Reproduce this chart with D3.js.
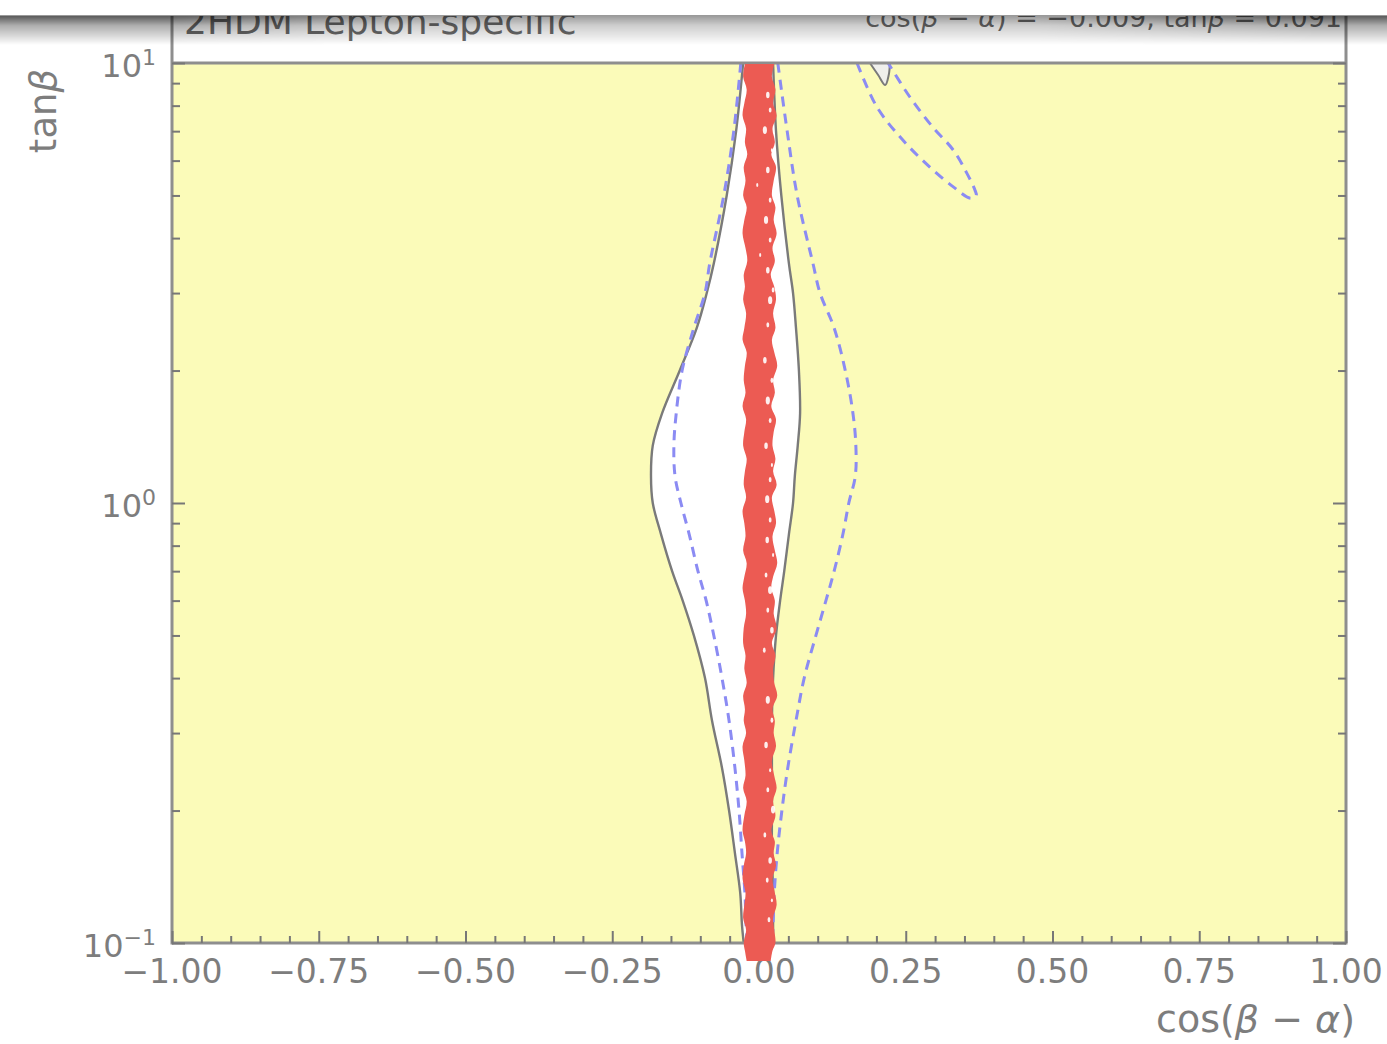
<!DOCTYPE html>
<html><head><meta charset="utf-8">
<script src="https://cdn.jsdelivr.net/npm/d3@7"></script>
<style>
body{margin:0;background:#fff;}
svg{display:block;}
text{font-family:"DejaVu Sans",sans-serif;}
</style>
</head><body>
<svg id="c" width="1387" height="1044"></svg>
<script>
// ---------- data ----------
const xTicks = [-1.00,-0.75,-0.50,-0.25,0.00,0.25,0.50,0.75,1.00];
const xTickLabels = ["\u22121.00","\u22120.75","\u22120.50","\u22120.25","0.00","0.25","0.50","0.75","1.00"];
const xMinorTicks = [-0.95,-0.90,-0.85,-0.80,-0.70,-0.65,-0.60,-0.55,-0.45,-0.40,-0.35,-0.30,-0.20,-0.15,-0.10,-0.05,
                     0.05,0.10,0.15,0.20,0.30,0.35,0.40,0.45,0.55,0.60,0.65,0.70,0.80,0.85,0.90,0.95];
const yTicks = [0.1, 1, 10];
const yTickExp = ["\u22121","0","1"];
const yMinorTicks = [0.2,0.3,0.4,0.5,0.6,0.7,0.8,0.9,2,3,4,5,6,7,8,9];

const titleLeft = "2HDM Lepton-specific";
const bestFit = {cba:"\u22120.009", tb:"0.091"};

// tanβ grid for the main contours
const tanGrid  = [10,7,5,3.5,3,2.5,2,1.6,1.35,1.15,1.0,0.85,0.7,0.6,0.5,0.4,0.32,0.25,0.2,0.16,0.13,0.11,0.1];
// solid grey contour (allowed region boundary), cos(β−α)
const grayLeft  = [-0.027,-0.039,-0.055,-0.077,-0.089,-0.106,-0.135,-0.165,-0.181,-0.184,-0.181,-0.167,-0.148,-0.130,-0.111,-0.092,-0.080,-0.063,-0.051,-0.041,-0.032,-0.029,-0.026];
const grayRight = [0.024,0.029,0.038,0.051,0.058,0.063,0.068,0.070,0.066,0.061,0.058,0.051,0.043,0.036,0.029,0.024,0.022,0.022,0.022,0.022,0.024,0.024,0.024];
// blue dashed contour
const blueLeft  = [-0.031,-0.043,-0.060,-0.084,-0.092,-0.111,-0.131,-0.141,-0.145,-0.143,-0.133,-0.119,-0.104,-0.090,-0.077,-0.063,-0.051,-0.041,-0.034,-0.029,-0.024,-0.022,-0.020];
const blueRight = [0.032,0.048,0.065,0.092,0.104,0.128,0.147,0.160,0.165,0.164,0.153,0.143,0.128,0.114,0.097,0.077,0.063,0.049,0.039,0.031,0.026,0.024,0.022];
// upper-right islands
const islandBlueC = [0.167,0.201,0.245,0.291,0.331,0.360,0.370,0.368,0.354,0.331,0.296,0.257,0.220];
const islandBlueT = [10.0,7.94,6.68,5.80,5.23,4.93,4.99,5.14,5.62,6.34,7.15,8.37,10.0];
const islandGrayC = [0.189,0.203,0.215,0.221,0.223];
const islandGrayT = [10.0,9.39,8.91,9.39,10.0];
// red best-fit scatter band (edges)
const redT = [9.95,9.3,8.7,8.1,7.6,7.1,6.6,6.2,5.8,5.4,5.0,4.7,4.4,4.1,3.8,3.55,3.3,3.1,2.9,2.7,2.5,2.35,2.2,2.05,1.9,1.78,1.66,1.55,1.45,1.35,
              1.26,1.18,1.1,1.03,0.96,0.9,0.84,0.78,0.73,0.68,0.64,0.6,0.56,0.52,0.48,0.45,0.42,0.39,0.365,0.34,0.32,0.3,0.28,0.26,0.24,0.225,0.21,0.195,0.18,0.17,
              0.16,0.15,0.14,0.13,0.122,0.114,0.107,0.1,0.096,0.091];
const redLeft = [-0.024,-0.027,-0.021,-0.025,-0.028,-0.022,-0.024,-0.020,-0.026,-0.023,
                 -0.027,-0.021,-0.025,-0.028,-0.023,-0.020,-0.026,-0.024,-0.027,-0.022,
                 -0.025,-0.028,-0.021,-0.024,-0.026,-0.023,-0.028,-0.022,-0.025,-0.027,
                 -0.021,-0.024,-0.026,-0.022,-0.028,-0.025,-0.023,-0.027,-0.021,-0.025,
                 -0.028,-0.024,-0.022,-0.026,-0.027,-0.023,-0.025,-0.021,-0.027,-0.024,
                 -0.026,-0.022,-0.028,-0.025,-0.023,-0.027,-0.021,-0.025,-0.028,-0.024,
                 -0.022,-0.026,-0.028,-0.023,-0.025,-0.027,-0.022,-0.026,-0.024,-0.021];
const redRight = [0.026,0.022,0.028,0.024,0.030,0.023,0.027,0.021,0.029,0.025,
                  0.022,0.028,0.025,0.030,0.023,0.027,0.020,0.026,0.029,0.024,
                  0.028,0.022,0.026,0.031,0.024,0.027,0.021,0.029,0.025,0.023,
                  0.028,0.024,0.030,0.022,0.026,0.029,0.023,0.027,0.031,0.024,
                  0.021,0.027,0.025,0.030,0.022,0.028,0.024,0.026,0.031,0.023,
                  0.027,0.025,0.029,0.022,0.026,0.030,0.024,0.028,0.021,0.027,
                  0.025,0.029,0.023,0.027,0.030,0.024,0.026,0.028,0.023,0.020];
// small gaps inside the red scatter band
const speckT = [8.46,7.82,7.04,6.34,5.71,5.28,4.88,4.40,3.96,3.66,3.38,3.05,2.89,2.54,2.29,2.11,1.90,1.71,1.54,1.35,1.22,1.13,1.02,0.915,0.824,0.762,0.686,0.634,0.571,0.514,0.463,0.357,0.321,0.282,0.247,0.223,0.201,0.176,0.154,0.139,0.125,0.113];
const speckC = [0.015,0.019,0.010,0.022,0.015,-0.003,0.019,0.012,0.019,0.002,0.015,0.024,0.019,0.015,0.027,0.010,0.022,0.015,0.019,0.012,0.022,0.019,0.014,0.019,0.014,0.024,0.012,0.019,0.015,0.022,0.009,0.015,0.022,0.012,0.019,0.015,0.024,0.010,0.019,0.014,0.022,0.017];
const speckR = [2.5,2,3,1.5,2.5,1.5,2,3,2,1.5,2.5,2,3,2,1.5,2.5,2,3,2,2.5,1.5,2,3,2,2.5,1.5,2,3,2,2.5,2,3,2,2.5,1.5,2,3,2,2.5,2,1.5,2];

// ---------- layout ----------
const W=1387,H=1044;
const X0=172,X1=1346,Y0=63,Y1=943;
const svg = d3.select("#c");
const x = d3.scaleLinear().domain([-1,1]).range([X0,X1]);
const y = d3.scaleLog().domain([0.1,10]).range([Y1,Y0]);

const YELLOW="#fbfbb9", GRAY="#7a7a7a", BLUE="#8b8bf3", RED="#ec5b53", AX="#8e8e8e", TXT="#7d7d7d";

const defs = svg.append("defs");
defs.append("clipPath").attr("id","pc").append("rect")
  .attr("x",X0).attr("y",Y0).attr("width",X1-X0).attr("height",Y1-Y0);
defs.append("filter").attr("id","soft").append("feGaussianBlur").attr("stdDeviation",0.7);

// shadow gradients
const gv = defs.append("linearGradient").attr("id","gv").attr("x1",0).attr("y1",0).attr("x2",0).attr("y2",1);
gv.append("stop").attr("offset",0).attr("stop-color","#000").attr("stop-opacity",0.68);
gv.append("stop").attr("offset",0.35).attr("stop-color","#000").attr("stop-opacity",0.32);
gv.append("stop").attr("offset",1).attr("stop-color","#000").attr("stop-opacity",0);
const gh = defs.append("linearGradient").attr("id","gh").attr("x1",0).attr("y1",0).attr("x2",1).attr("y2",0);
[[0,"#fff"],[0.12,"#fff"],[0.3,"#9a9a9a"],[0.75,"#9a9a9a"],[0.95,"#fff"],[1,"#fff"]]
  .forEach(s=>gh.append("stop").attr("offset",s[0]).attr("stop-color",s[1]));
defs.append("mask").attr("id","mh").append("rect")
  .attr("x",0).attr("y",0).attr("width",W).attr("height",80).attr("fill","url(#gh)");

// ---------- plot ----------
const plot = svg.append("g").attr("clip-path","url(#pc)");
plot.append("rect").attr("x",X0).attr("y",Y0).attr("width",X1-X0).attr("height",Y1-Y0).attr("fill",YELLOW);

const idx = d3.range(tanGrid.length);
const lensArea = d3.area().curve(d3.curveCatmullRom)
  .y(i=>y(tanGrid[i])).x0(i=>x(grayLeft[i])).x1(i=>x(grayRight[i]));
plot.append("path").attr("d",lensArea(idx)).attr("fill","#fff");
const lineL = arr => d3.line().curve(d3.curveCatmullRom).x(i=>x(arr[i])).y(i=>y(tanGrid[i]))(idx);
const gl = plot.append("g").attr("filter","url(#soft)");
[grayLeft,grayRight].forEach(a=>gl.append("path").attr("d",lineL(a))
  .attr("fill","none").attr("stroke",GRAY).attr("stroke-width",2.4));

const islG = d3.line().curve(d3.curveCatmullRom).x(i=>x(islandGrayC[i])).y(i=>y(islandGrayT[i]));
gl.append("path").attr("d",islG(d3.range(islandGrayC.length))).attr("fill","#efefec")
  .attr("stroke",GRAY).attr("stroke-width",2);

const bl = plot.append("g").attr("filter","url(#soft)");
[blueLeft,blueRight].forEach(a=>bl.append("path").attr("d",lineL(a))
  .attr("fill","none").attr("stroke",BLUE).attr("stroke-width",3).attr("stroke-dasharray","10,7"));
const islB = d3.line().curve(d3.curveCatmullRom).x(i=>x(islandBlueC[i])).y(i=>y(islandBlueT[i]));
bl.append("path").attr("d",islB(d3.range(islandBlueC.length))).attr("fill","none")
  .attr("stroke",BLUE).attr("stroke-width",3).attr("stroke-dasharray","10,7");

// ---------- axes ----------
const ax = svg.append("g");
ax.append("line").attr("x1",X0).attr("x2",X0).attr("y1",0).attr("y2",Y1+1.5).attr("stroke",AX).attr("stroke-width",3);
ax.append("line").attr("x1",X1).attr("x2",X1).attr("y1",0).attr("y2",Y1+1.5).attr("stroke",AX).attr("stroke-width",3);
ax.append("line").attr("x1",X0).attr("x2",X1).attr("y1",Y1).attr("y2",Y1).attr("stroke",AX).attr("stroke-width",3);
ax.append("line").attr("x1",X0).attr("x2",X1).attr("y1",Y0).attr("y2",Y0).attr("stroke",AX).attr("stroke-width",3);

function styleAxis(g){ g.select(".domain").remove(); g.selectAll(".tick line").attr("stroke","#777").attr("stroke-width",2); g.selectAll(".tick text").remove(); }
ax.append("g").attr("transform",`translate(0,${Y1})`).call(d3.axisBottom(x).tickValues(xTicks).tickSize(-12)).call(styleAxis);
ax.append("g").attr("transform",`translate(0,${Y1})`).call(d3.axisBottom(x).tickValues(xMinorTicks).tickSize(-7)).call(styleAxis);
ax.append("g").attr("transform",`translate(${X0},0)`).call(d3.axisLeft(y).tickValues(yTicks).tickSize(-13)).call(styleAxis);
ax.append("g").attr("transform",`translate(${X0},0)`).call(d3.axisLeft(y).tickValues(yMinorTicks).tickSize(-8)).call(styleAxis);
ax.append("g").attr("transform",`translate(${X1},0)`).call(d3.axisRight(y).tickValues(yTicks).tickSize(-13)).call(styleAxis);
ax.append("g").attr("transform",`translate(${X1},0)`).call(d3.axisRight(y).tickValues(yMinorTicks).tickSize(-8)).call(styleAxis);

xTicks.forEach((v,i)=>{
  svg.append("text").attr("x",x(v)).attr("y",983).attr("text-anchor","middle")
    .attr("font-size",33).attr("fill",TXT).text(xTickLabels[i]);
});
yTicks.forEach((v,i)=>{
  const t = svg.append("text").attr("x",156).attr("y",y(v)+14).attr("text-anchor","end").attr("fill",TXT);
  t.append("tspan").attr("font-size",32).text("10");
  t.append("tspan").attr("font-size",22).attr("dy",-12).text(yTickExp[i]);
});

const yl = svg.append("text").attr("transform","translate(56,111) rotate(-90)")
  .attr("text-anchor","middle").attr("font-size",37).attr("fill",TXT);
yl.append("tspan").text("tan");
yl.append("tspan").attr("font-style","italic").text("\u03b2");

const xl = svg.append("text").attr("x",1355).attr("y",1032).attr("text-anchor","end")
  .attr("font-size",38).attr("fill",TXT);
xl.append("tspan").text("cos(");
xl.append("tspan").attr("font-style","italic").text("\u03b2");
xl.append("tspan").text(" \u2212 ");
xl.append("tspan").attr("font-style","italic").text("\u03b1");
xl.append("tspan").text(")");

// ---------- red best-fit band ----------
const redArea = d3.area().curve(d3.curveCatmullRom)
  .y(i=>y(redT[i])).x0(i=>x(redLeft[i])).x1(i=>x(redRight[i]));
svg.append("path").attr("d",redArea(d3.range(redT.length))).attr("fill",RED);
svg.append("g").selectAll("ellipse").data(d3.range(speckT.length)).join("ellipse")
  .attr("cx",i=>x(speckC[i])).attr("cy",i=>y(speckT[i]))
  .attr("rx",i=>speckR[i]*0.7).attr("ry",i=>speckR[i]*1.3)
  .attr("fill","#fff").attr("opacity",0.9);

// ---------- title texts (partly cut at the top) ----------
svg.append("text").attr("x",184).attr("y",34).attr("font-size",36).attr("fill","#6a6a6a").text(titleLeft);
const rt = svg.append("text").attr("x",1342).attr("y",27).attr("text-anchor","end").attr("font-size",27).attr("fill","#6a6a6a");
rt.append("tspan").text("cos(");
rt.append("tspan").attr("font-style","italic").text("\u03b2");
rt.append("tspan").text(" \u2212 ");
rt.append("tspan").attr("font-style","italic").text("\u03b1");
rt.append("tspan").text(") = " + bestFit.cba + ", tan");
rt.append("tspan").attr("font-style","italic").text("\u03b2");
rt.append("tspan").text(" = " + bestFit.tb);

// ---------- top white band + shadow ----------
svg.append("rect").attr("x",0).attr("y",0).attr("width",W).attr("height",15).attr("fill","#fff");
svg.append("rect").attr("x",0).attr("y",15).attr("width",W).attr("height",30)
  .attr("fill","url(#gv)").attr("mask","url(#mh)");
svg.append("line").attr("x1",0).attr("x2",W).attr("y1",15.5).attr("y2",15.5).attr("stroke","#9a9a9a").attr("stroke-width",1);
</script>
</body></html>
